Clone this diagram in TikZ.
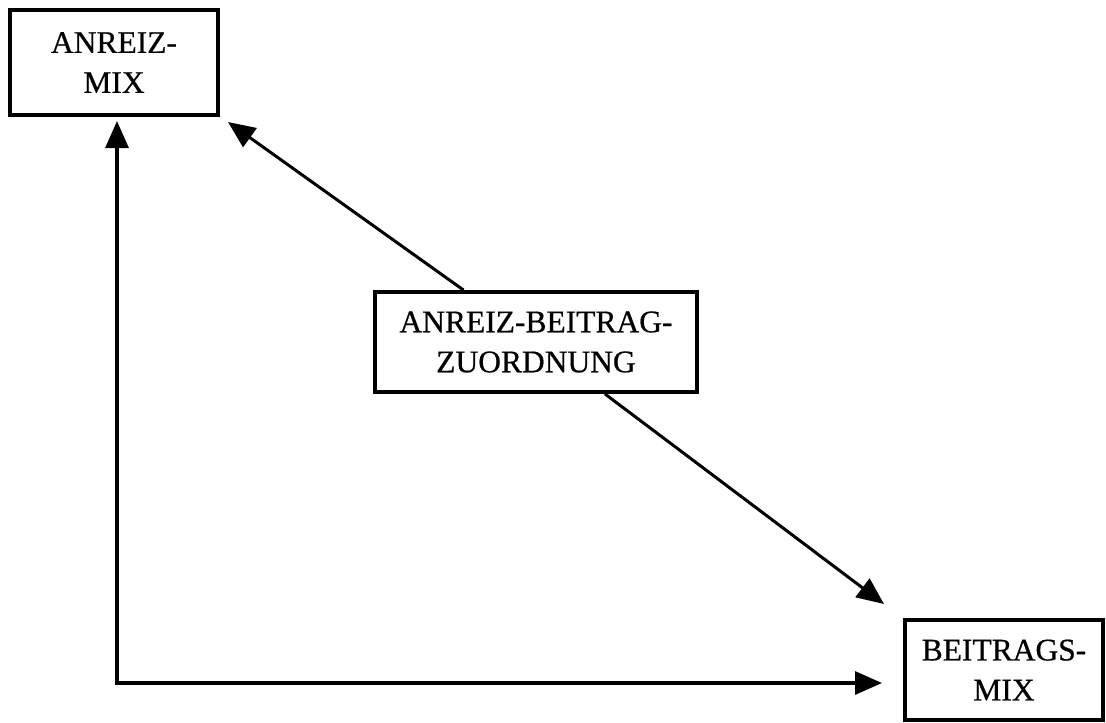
\documentclass[tikz,border=0pt]{standalone}
\usepackage{fontspec}
\setmainfont{Liberation Serif}[FakeBold=0.6]
\usetikzlibrary{arrows.meta}
\begin{document}
\begin{tikzpicture}[x=1pt,y=-1pt,
  box/.style={draw, line width=3.8pt, align=center, inner sep=0pt,
    font=\fontsize{31.5}{40}\selectfont},
  link/.style={line width=3pt, -{Triangle[length=27pt,width=23pt]}}]
  \useasboundingbox (0,0) rectangle (1106,723);
  % boxes
  \node[box, minimum width=208pt, minimum height=105pt] (anreiz) at (114,62.5) {ANREIZ-\\MIX};
  \node[box, minimum width=322pt, minimum height=100pt] (zuord) at (536,342) {ANREIZ-BEITRAG-\\ZUORDNUNG};
  \node[box, minimum width=198pt, minimum height=100pt] (beitrag) at (1004,670) {BEITRAGS-\\MIX};
  % arrow end points and corner
  \coordinate (tipA) at (228,122);
  \coordinate (tipB) at (884,604);
  \coordinate (corner) at (117,683);
  \coordinate (tipUp) at (117,121);
  \coordinate (tipRight) at (882,683);
  % connectors
  \draw[link] (zuord) -- (tipA);
  \draw[link] (zuord) -- (tipB);
  \draw[link, {Triangle[length=27pt,width=23pt]}-{Triangle[length=27pt,width=23pt]}, line width=3.2pt, line join=miter]
    (tipUp) -- (corner) -- (tipRight);
\end{tikzpicture}
\end{document}
